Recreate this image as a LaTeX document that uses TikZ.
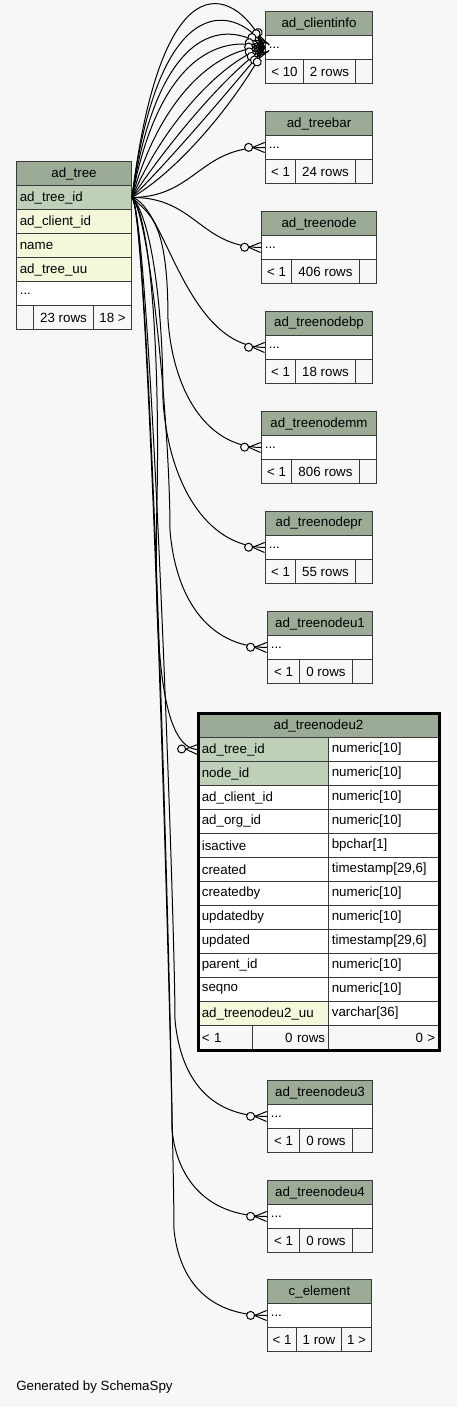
\documentclass[tikz,border=0pt]{standalone}
\usepackage{fontspec}
\setmainfont{Liberation Sans}
\usetikzlibrary{decorations.markings}
\definecolor{bgc}{HTML}{F7F7F7}
\definecolor{headc}{HTML}{9BAB96}
\definecolor{keyc}{HTML}{BED1B8}
\definecolor{idxc}{HTML}{F4F7DA}
\definecolor{linec}{HTML}{3A3A3A}
\newcommand\moredots{...}
\begin{document}
\begin{tikzpicture}[x=0.75pt, y=-0.75pt,
    cell/.style={draw=linec, line width=0.75pt, anchor=north west, minimum height=18pt,
                 inner xsep=2.5pt, inner ysep=0pt, font=\fontsize{10}{12}\selectfont},
    head/.style={cell, fill=headc},
    foot/.style={cell, fill=bgc},
    relation/.style={line width=0.75pt, postaction={decorate},
      decoration={markings, mark=at position -0.3pt with {
        \draw[line width=0.75pt] (-9pt,0pt) -- (0pt,3.75pt) (-9pt,0pt) -- (0pt,-3.75pt);
        \filldraw[line width=0.75pt, fill=bgc] (-12pt,0pt) circle (3pt);}}}]
    \fill[bgc] (0,0) rectangle (457,1407);
    \useasboundingbox (0,0) rectangle (457,1407);

    % small tables
    \foreach \nm/\x/\y/\w/\ttl/\sa/\sb/\fa/\fb/\fc in {
        clientinfo/265/11/107/ad\_clientinfo/303/355/{< 10}/2 rows/{},
        treebar/265/111/107/ad\_treebar/295/355/{< 1}/24 rows/{},
        treenode/261/211/115/ad\_treenode/291/359/{< 1}/406 rows/{},
        treenodebp/265/311/107/ad\_treenodebp/295/355/{< 1}/18 rows/{},
        treenodemm/261/411/115/ad\_treenodemm/291/359/{< 1}/806 rows/{},
        treenodepr/265/511/107/ad\_treenodepr/295/355/{< 1}/55 rows/{},
        treenodeu1/267/611/105/ad\_treenodeu1/299/352/{< 1}/0 rows/{},
        treenodeu3/267/1080/105/ad\_treenodeu3/299/352/{< 1}/0 rows/{},
        treenodeu4/267/1180/105/ad\_treenodeu4/299/352/{< 1}/0 rows/{},
        celement/267/1279/104/c\_element/296/341/{< 1}/1 row/1 >}{
        \pgfmathsetmacro\W{\w*0.75}
        \pgfmathsetmacro\Wa{(\sa-\x)*0.75}
        \pgfmathsetmacro\Wb{(\sb-\sa)*0.75}
        \pgfmathsetmacro\Wc{(\x+\w-\sb)*0.75}
        \pgfmathsetmacro\Tw{\W-5}
        \node[head, minimum width=\W pt] (\nm-h) at (\x,\y) {\ttl};
        \node[cell, fill=white, text width=\Tw pt, align=left] (\nm) at (\x,\y+24) {\moredots};
        \node[foot, minimum width=\Wa pt] (\nm-a) at (\x,\y+48) {\fa};
        \node[foot, minimum width=\Wb pt] (\nm-b) at (\sa,\y+48) {\fb};
        \node[foot, minimum width=\Wc pt] (\nm-c) at (\sb,\y+48) {\fc};}

    % ad_tree
    \node[head, minimum width=86.25pt] (tree-h) at (16,161) {ad\_tree};
    \foreach \nm/\txt/\col [count=\i] in {treeid/ad\_tree\_id/keyc, treeclient/ad\_client\_id/idxc,
        treename/name/idxc, treeuu/ad\_tree\_uu/idxc, treemore/\moredots/white}
        \node[cell, fill=\col, text width=81.25pt, align=left] (\nm) at (16,161+24*\i) {\txt};
    \node[foot, minimum width=12.75pt] (tree-a) at (16,305) {};
    \node[foot, minimum width=45pt] (tree-b) at (33,305) {23 rows};
    \node[foot, minimum width=28.5pt] (tree-c) at (93,305) {18 >};

    % ad_treenodeu2
    \node[head, minimum width=180pt] (u2-h) at (198,713) {ad\_treenodeu2};
    \foreach \nm/\col/\typ/\fc [count=\i] in {u2id/ad\_tree\_id/numeric[10]/keyc,
        u2node/node\_id/numeric[10]/keyc, u2client/ad\_client\_id/numeric[10]/white,
        u2org/ad\_org\_id/numeric[10]/white, u2active/isactive/bpchar[1]/white,
        u2created/created/{timestamp[29,6]}/white, u2createdby/createdby/numeric[10]/white,
        u2updatedby/updatedby/numeric[10]/white, u2updated/updated/{timestamp[29,6]}/white,
        u2parent/parent\_id/numeric[10]/white, u2seqno/seqno/numeric[10]/white,
        u2uu/ad\_treenodeu2\_uu/varchar[36]/idxc}{
        \node[cell, fill=\fc, text width=92.5pt, align=left] (\nm) at (198,713+24*\i) {\col};
        \node[cell, fill=white, text width=77.5pt, align=left] (\nm-t) at (328,713+24*\i) {\typ};}
    \node[foot, text width=35.5pt, align=left] (u2-a) at (198,1025) {< 1};
    \node[foot, text width=52pt, align=right] (u2-b) at (252,1025) {0 rows};
    \node[foot, text width=77.5pt, align=right] (u2-c) at (328,1025) {0 >};
    \draw[line width=2.25pt] (u2-h.north west) rectangle (u2-c.south east);

    % relations to ad_clientinfo
    \foreach \ax/\ay/\bx/\by in {163/-55/240/-8, 160/-20/240/8, 160/15/232/22, 160/50/225/35,
        162/90/222/46, 165/120/226/58, 170/140/230/70, 175/155/234/84, 182/168/238/98}
        \draw[relation] (treeid.east) .. controls (\ax,\ay) and (\bx,\by) .. (clientinfo.west);

    % relations to the other tables
    \draw[relation] (treeid.east) .. controls (195,197) and (200,146.7) .. (treebar.west);
    \draw[relation] (treeid.east) .. controls (195,197) and (200,246.7) .. (treenode.west);
    \draw[relation] (treeid.east) .. controls (165,205) and (185,346.7) .. (treenodebp.west);
    \foreach \nm/\L/\ya/\ye in {treenodemm/168/320/446.5, treenodepr/163/400/546.7,
        treenodeu1/170/530/646.7, treenodeu3/175/1020/1116, treenodeu4/172/1130/1216,
        celement/174/1230/1315.3}
        \draw[relation] (treeid.east) .. controls (150,215) and (\L,\ya-100) .. (\L,\ya)
            .. controls (\L+5,\ya+0.55*\ye-0.55*\ya) and (205,\ye) .. (\nm.west);
    \draw[relation] (treeid.east) .. controls (150,215) and (160,350) .. (157,500)
        .. controls (154,640) and (160,749) .. (u2id.west);

    \node[anchor=west, inner sep=0pt, font=\fontsize{10}{12}\selectfont] (credit) at (16,1387) {Generated by SchemaSpy};
\end{tikzpicture}
\end{document}
